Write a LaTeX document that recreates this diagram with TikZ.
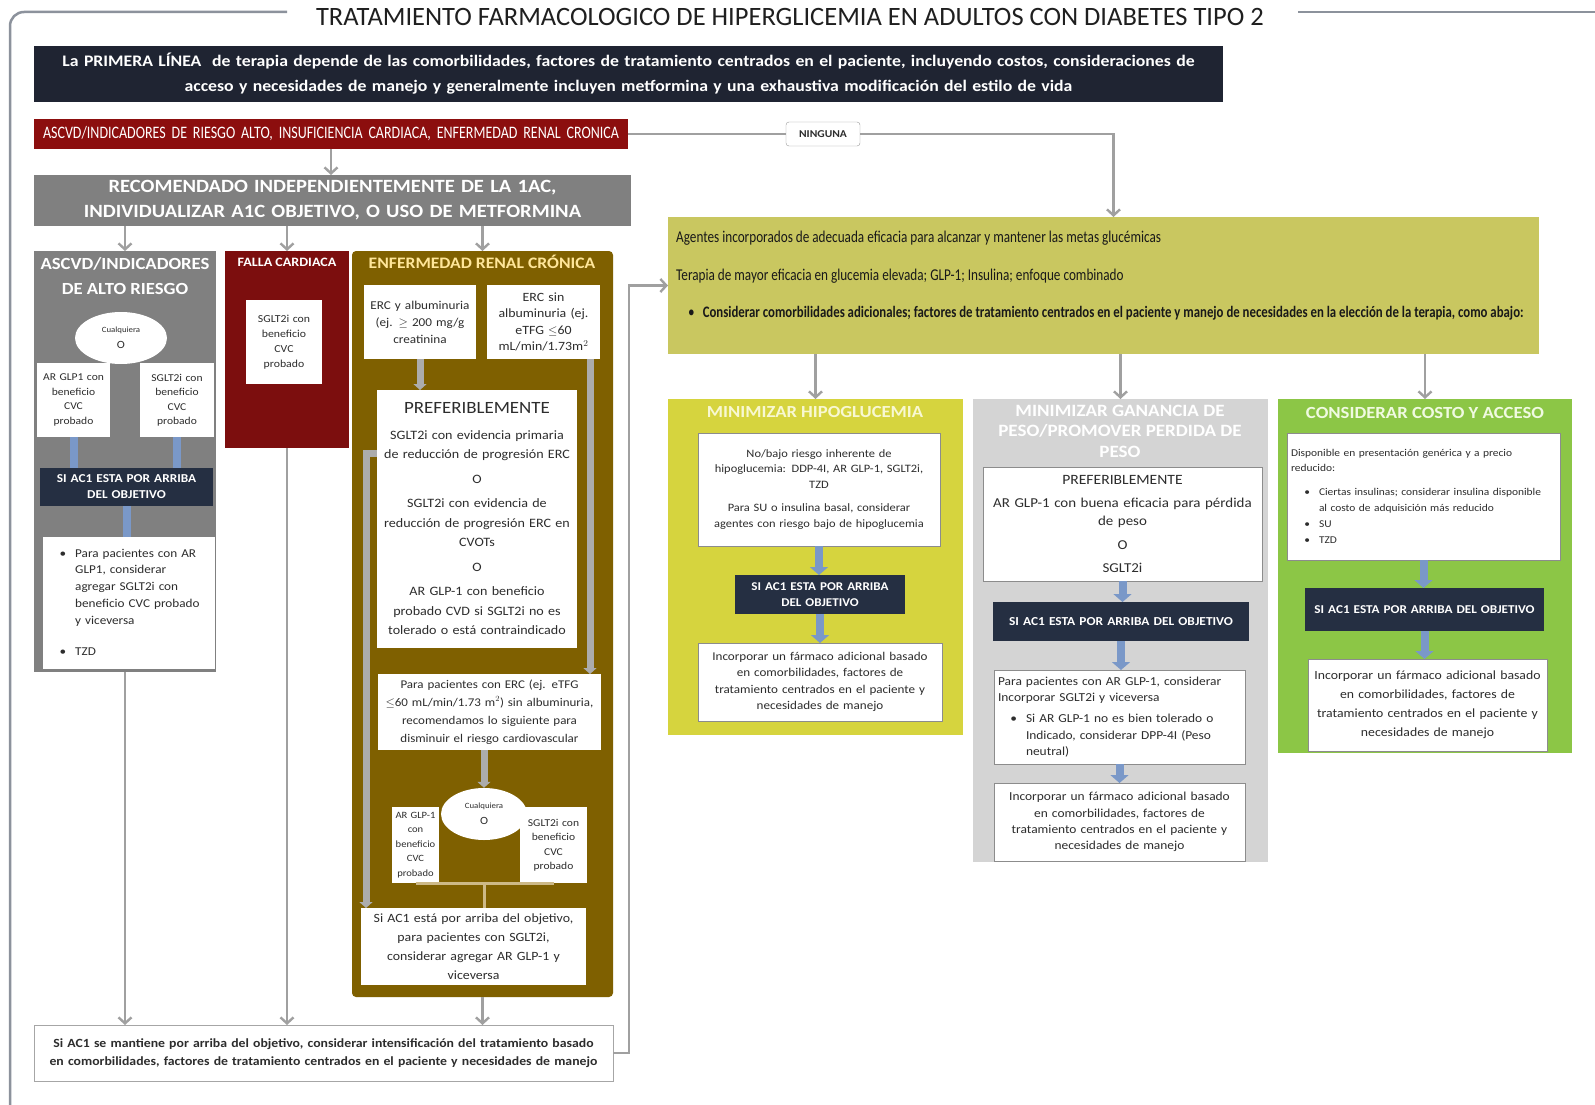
\documentclass[tikz,border=0pt]{standalone}
\usepackage{fontspec}
\setmainfont{Carlito}[FakeStretch=1.1]
\newfontfamily\tfont{Carlito}
\newfontfamily\cond[FakeStretch=0.8]{Carlito}
\usetikzlibrary{arrows.meta,shapes.geometric}

\newcommand{\fs}[2]{\fontsize{#1}{#2}\selectfont}
\newcommand{\bulitem}[1]{\par{\leftskip=28pt\noindent\llap{\textbullet\hspace{9pt}}#1\par}}

\definecolor{navyh}{RGB}{31,36,50}
\definecolor{navyb}{RGB}{37,47,66}
\definecolor{redbarc}{RGB}{140,14,14}
\definecolor{darkredc}{RGB}{124,14,14}
\definecolor{greyc}{RGB}{128,128,128}
\definecolor{ercbrown}{RGB}{127,96,0}
\definecolor{paley}{RGB}{255,230,153}
\definecolor{ytop}{RGB}{201,199,96}
\definecolor{yhipo}{RGB}{214,212,62}
\definecolor{gpeso}{RGB}{212,212,212}
\definecolor{gcost}{RGB}{140,198,70}
\definecolor{bluea}{RGB}{122,152,200}
\definecolor{connc}{RGB}{160,160,160}
\definecolor{gbarc}{RGB}{172,172,172}
\definecolor{tanc}{RGB}{205,185,135}
\definecolor{framec}{RGB}{140,146,156}
\definecolor{txt}{RGB}{45,45,45}

\tikzset{
  rect/.style args={#1/#2/#3/#4}{at={({(#1+#3)/2},{(#2+#4)/2})},minimum width={(#3-#1)*1pt},minimum height={(#4-#2)*1pt},text width={(#3-#1)*1pt-8pt}},
  bx/.style={inner sep=4pt,outer sep=0pt,align=center,font=\fs{11}{16},text=txt},
  wbox/.style={bx,fill=white,draw=black!45,line width=0.6pt},
  col/.style={bx,draw=none},
  dkbox/.style={bx,fill=navyb,text=white,font=\bfseries\fs{12}{16}},
  ctitle/.style={inner sep=0pt,align=center,font=\bfseries\fs{17}{24}},
  conn/.style={draw=connc,line width=2.4pt,-{Straight Barb[length=6pt,width=13pt]}},
  plainconn/.style={draw=connc,line width=2.4pt},
  barrow/.style={draw=bluea,line width=8pt,-{Triangle[width=18pt,length=8pt]}},
  bbar/.style={draw=bluea,line width=8pt},
  gbar/.style={draw=gbarc,line width=7pt,-{Triangle[width=13pt,length=6pt]}},
  tanline/.style={draw=tanc,line width=3pt},
  orell/.style={ellipse,fill=white,draw=none,inner sep=0pt,align=center,text=txt},
}

\begin{document}
\begin{tikzpicture}[x=1pt,y=-1pt]
\useasboundingbox[fill=white] (0,0) rectangle (1595,1105);

% frame
\draw[framec,line width=2.5pt,rounded corners=14pt] (287,12) -- (10,12) -- (10,1115);
\draw[framec,line width=2.5pt] (1298,12) -- (1600,12);

% title
\node[text=black!88,font=\tfont\fs{26.5}{30}] (title) at (790,17) {TRATAMIENTO FARMACOLOGICO DE HIPERGLICEMIA EN ADULTOS CON DIABETES TIPO 2};

% header
\node[bx,rect=34/46/1223/102,fill=navyh,text=white,font=\bfseries\fs{16.1}{25}] (header) {La PRIMERA LÍNEA\ \ de terapia depende de las comorbilidades, factores de tratamiento centrados en el paciente, incluyendo costos, consideraciones de\\acceso y necesidades de manejo y generalmente incluyen metformina y una exhaustiva modificación del estilo de vida};

% red bar
\node[bx,rect=34/119/628/149,fill=redbarc,text=white,font=\cond\fs{17.5}{18}] (rb) {ASCVD/INDICADORES DE RIESGO ALTO, INSUFICIENCIA CARDIACA, ENFERMEDAD RENAL CRONICA};
\node[bx,rect=786/122/860/146,fill=white,draw=black!40,rounded corners=3pt,font=\bfseries\fs{10.5}{11}] (ning) {NINGUNA};

% recomendado
\node[bx,rect=34/175/631/226,fill=greyc,text=white,font=\bfseries\fs{18.7}{25}] (recom) {RECOMENDADO INDEPENDIENTEMENTE DE LA 1AC,\\INDIVIDUALIZAR A1C OBJETIVO, O USO DE METFORMINA};

% ===== ASCVD column
\node[col,rect=34/251/216/672,fill=greyc] (ascvd) {};
\node[ctitle,text=white,font=\bfseries\fs{17}{25}] (ascvdT) at (125,276) {ASCVD/INDICADORES\\DE ALTO RIESGO};
\node[bx,rect=37/363/110/437,fill=white,font=\fs{10.5}{14.5}] (ag1) {AR GLP1 con\\beneficio\\CVC\\probado};
\node[bx,rect=140/363/214/437,fill=white,font=\fs{10.5}{14.5}] (sg1) {SGLT2i con\\beneficio\\CVC\\probado};
\node[orell,minimum width=92pt,minimum height=52pt] (ell1) at (121,338) {\fs{8}{9}Cualquiera\\[4pt]\fs{11}{11}O};
\node[dkbox,rect=40/468/213/506,font=\bfseries\fs{12.1}{16}] (dk1) {SI AC1 ESTA POR ARRIBA\\DEL OBJETIVO};
\node[bx,rect=43/537/215/669,fill=white] (wb1) {};
\node[anchor=north west,inner sep=0pt,align=left,text width=164pt,text=txt,font=\fs{12}{16.8}] (wb1t) at ([xshift=4pt,yshift=-3pt]wb1.north west) {\bulitem{Para pacientes con AR\\GLP1, considerar\\agregar SGLT2i con\\beneficio CVC probado\\y viceversa}\vspace{14pt}\bulitem{TZD}};
\draw[bbar] (ag1.south) -- (ag1.south |- dk1.north);
\draw[bbar] (sg1.south) -- (sg1.south |- dk1.north);
\draw[bbar] (dk1.south) -- (dk1.south |- wb1.north);

% ===== FALLA column
\node[col,rect=225/251/349/448,fill=darkredc] (falla) {};
\node[ctitle,text=white,font=\bfseries\fs{12.8}{16}] (fallaT) at (287,262) {FALLA CARDIACA};
\node[bx,rect=246/300/322/384,fill=white,font=\fs{10.7}{15}] (fb1) {SGLT2i con\\beneficio\\CVC\\probado};

% ===== ERC column
\node[col,rect=352/251/613/997,fill=ercbrown,rounded corners=4pt] (erc) {};
\node[ctitle,text=paley,font=\bfseries\fs{16}{20}] (ercT) at (482,262) {ENFERMEDAD RENAL CRÓNICA};
\node[bx,rect=364/285/476/359,fill=white,font=\fs{12}{17}] (e1) {ERC y albuminuria\\(ej. $\geq$ 200 mg/g\\creatinina};
\node[bx,rect=487/285/600/359,fill=white,font=\fs{12.6}{16.5}] (e2) {ERC sin\\albuminuria (ej.\\eTFG $\leq$60\\mL/min/1.73m$^2$};
\node[bx,rect=377/390/577/648,fill=white,font=\fs{12.8}{19.5}] (pref) {{\fs{17.2}{22}PREFERIBLEMENTE}\\[6pt]SGLT2i con evidencia primaria\\de reducción de progresión ERC\\[5pt]O\\[5pt]SGLT2i con evidencia de\\reducción de progresión ERC en\\CVOTs\\[5pt]O\\[5pt]AR GLP-1 con beneficio\\probado CVD si SGLT2i no es\\tolerado o está contraindicado};
\node[bx,rect=378/674/601/750,fill=white,font=\fs{11.8}{18}] (para) {Para pacientes con ERC (ej. eTFG\\$\leq$60 mL/min/1.73 m$^2$) sin albuminuria,\\recomendamos lo siguiente para\\disminuir el riesgo cardiovascular};
\node[bx,rect=392/807/439/883,fill=white,font=\fs{9.6}{14.5},inner xsep=1pt,text width=45pt] (ag2) {AR GLP-1\\con\\beneficio\\CVC\\probado};
\node[bx,rect=520/807/587/883,fill=white,font=\fs{10.5}{14.5}] (sg2) {SGLT2i con\\beneficio\\CVC\\probado};
\node[orell,minimum width=86pt,minimum height=52pt] (ell2) at (484,814) {\fs{8}{9}Cualquiera\\[4pt]\fs{11}{11}O};
\node[bx,rect=361/908/586/985,fill=white,font=\fs{12.6}{19}] (sia) {Si AC1 está por arriba del objetivo,\\para pacientes con SGLT2i,\\considerar agregar AR GLP-1 y\\viceversa};
\coordinate (e2r) at ([xshift=-10pt]e2.south east);
\coordinate (prefL) at ([yshift=66pt]pref.west);
\coordinate (siaL) at ([xshift=5pt]sia.north west);
\draw[gbar] (e1.south) -- (e1.south |- pref.north);
\draw[gbar] (e2r) -- (e2r |- para.north);
\draw[gbar] (prefL) -| (siaL);
\draw[gbar] (ell2.north |- para.south) -- (ell2.north);
\draw[tanline] (ag2.south) -- (sg2.south);
\draw[tanline] (ell2 |- ag2.south) -- (ell2 |- sia.north);

% bottom box
\node[bx,rect=34/1025/613/1081,fill=white,draw=black!35,font=\bfseries\fs{12.5}{18.5}] (bottom) {Si AC1 se mantiene por arriba del objetivo, considerar intensificación del tratamiento basado\\en comorbilidades, factores de tratamiento centrados en el paciente y necesidades de manejo};

% ===== yellow top box
\node[col,rect=668/217/1539/354,fill=ytop] (yellow) {};
\node[anchor=west,inner sep=0pt,align=left,text=black!90,font=\cond\fs{16.5}{37.5}] (ytext) at (676,276) {Agentes incorporados de adecuada eficacia para alcanzar y mantener las metas glucémicas\\Terapia de mayor eficacia en glucemia elevada; GLP-1; Insulina; enfoque combinado\\\hspace{12pt}\textbullet\hspace{8pt}{\bfseries\fs{16}{37.5}Considerar comorbilidades adicionales; factores de tratamiento centrados en el paciente y manejo de necesidades en la elección de la terapia, como abajo:}};

% ===== hipoglucemia column
\node[col,rect=668/399/963/735,fill=yhipo] (hipo) {};
\node[ctitle,text={rgb,255:red,248;green,248;blue,210},font=\bfseries\fs{16.9}{20}] (hipoT) at (815,412) {MINIMIZAR HIPOGLUCEMIA};
\node[wbox,rect=698/433/940/546,font=\fs{11.3}{15.5}] (hw1) {No/bajo riesgo inherente de\\hipoglucemia: DDP-4I, AR GLP-1, SGLT2i,\\TZD\\[8pt]Para SU o insulina basal, considerar\\agentes con riesgo bajo de hipoglucemia};
\node[dkbox,rect=735/575/905/614,font=\bfseries\fs{11.9}{15.5}] (dk2) {SI AC1 ESTA POR ARRIBA\\DEL OBJETIVO};
\node[wbox,rect=698/643/942/721,font=\fs{11.9}{16.3}] (hw2) {Incorporar un fármaco adicional basado\\en comorbilidades, factores de\\tratamiento centrados en el paciente y\\necesidades de manejo};
\draw[barrow] (hw1.south) -- (hw1.south |- dk2.north);
\draw[barrow] (dk2.south) -- (dk2.south |- hw2.north);

% ===== peso column
\node[col,rect=973/399/1268/862,fill=gpeso] (peso) {};
\node[ctitle,text=white,font=\bfseries\fs{17.3}{20.5}] (pesoT) at (1120,431) {MINIMIZAR GANANCIA DE\\PESO/PROMOVER PERDIDA DE\\PESO};
\node[wbox,rect=983/467/1262/581,font=\fs{13.6}{18.5}] (pw1) {{\fs{14.2}{18}PREFERIBLEMENTE}\\[4pt]AR GLP-1 con buena eficacia para pérdida\\de peso\\[5pt]O\\[5pt]SGLT2i};
\node[dkbox,rect=993/602/1249/641,font=\bfseries\fs{12.2}{15}] (dk3) {SI AC1 ESTA POR ARRIBA DEL OBJETIVO};
\node[wbox,rect=994/670/1245/764,align=left,font=\fs{12.2}{16.3}] (pw2) {Para pacientes con AR GLP-1, considerar\\Incorporar SGLT2i y viceversa\par\vspace{5pt}\bulitem{Si AR GLP-1 no es bien tolerado o\\Indicado, considerar DPP-4I (Peso\\neutral)}};
\node[wbox,rect=994/783/1245/861,font=\fs{12.2}{16.3}] (pw3) {Incorporar un fármaco adicional basado\\en comorbilidades, factores de\\tratamiento centrados en el paciente y\\necesidades de manejo};
\draw[barrow] (pw1.south) -- (pw1.south |- dk3.north);
\draw[barrow] (dk3.south) -- (dk3.south |- pw2.north);
\draw[barrow] (pw2.south) -- (pw2.south |- pw3.north);

% ===== costo column
\node[col,rect=1278/399/1572/753,fill=gcost] (costo) {};
\node[ctitle,text={rgb,255:red,240;green,250;blue,225}] (costoT) at (1425,413) {CONSIDERAR COSTO Y ACCESO};
\node[wbox,rect=1287/433/1560/560,align=left,font=\fs{10.4}{14.5}] (cw1) {Disponible en presentación genérica y a precio\\reducido:\par\vspace{8pt}{\fs{10.4}{16}\bulitem{Ciertas insulinas; considerar insulina disponible\\al costo de adquisición más reducido}\bulitem{SU}\bulitem{TZD}}};
\node[dkbox,rect=1305/588/1544/631,font=\bfseries\fs{12}{16}] (dk4) {SI AC1 ESTA POR ARRIBA DEL OBJETIVO};
\node[wbox,rect=1308/659/1547/751,font=\fs{12.5}{19}] (cw2) {Incorporar un fármaco adicional basado\\en comorbilidades, factores de\\tratamiento centrados en el paciente y\\necesidades de manejo};
\draw[barrow] (cw1.south) -- (cw1.south |- dk4.north);
\draw[barrow] (dk4.south) -- (dk4.south |- cw2.north);

% ===== connectors
\coordinate (yin) at ([xshift=10pt]yellow.north);
\draw[conn] (rb.south) -- (rb.south |- recom.north);
\draw[plainconn] (rb.east) -- (ning.west);
\draw[conn] (ning.east) -| (yin);
\draw[conn] (recom.south -| ascvd.north) -- (ascvd.north);
\draw[conn] (recom.south -| falla.north) -- (falla.north);
\draw[conn] (recom.south -| erc.north) -- (erc.north);
\draw[conn] (ascvd.south) -- (ascvd.south |- bottom.north);
\draw[conn] (falla.south) -- (falla.south |- bottom.north);
\draw[conn] (erc.south) -- (erc.south |- bottom.north);
\draw[conn] (bottom.east) -- ++(16,0) |- (yellow.west);
\draw[conn] (yellow.south -| hipo.north) -- (hipo.north);
\draw[conn] (yellow.south -| peso.north) -- (peso.north);
\draw[conn] (yellow.south -| costo.north) -- (costo.north);
\end{tikzpicture}
\end{document}
